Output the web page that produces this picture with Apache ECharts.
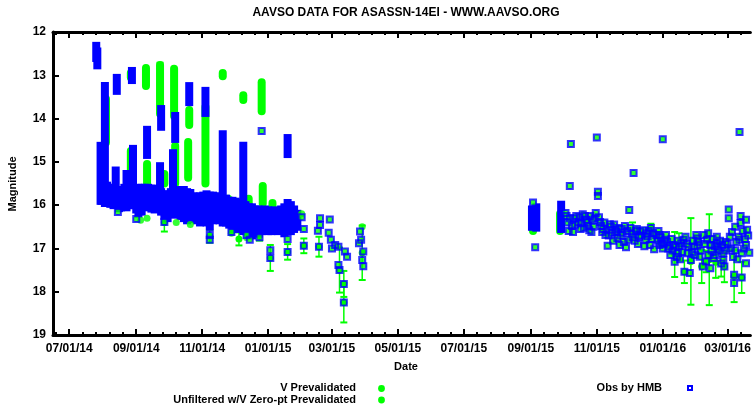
<!DOCTYPE html>
<html>
<head>
<meta charset="utf-8">
<script src="https://cdn.jsdelivr.net/npm/echarts@6/dist/echarts.min.js"></script>
<style>
html, body { margin: 0; padding: 0; background: #ffffff; }
#chart { width: 754px; height: 408px; }
</style>
</head>
<body>
<div id="chart"></div>
<script>
// ---- Light curve of ASASSN-14ei (AAVSO) ----
const chartTitle = 'AAVSO DATA FOR ASASSN-14EI - WWW.AAVSO.ORG';

// Date axis: major ticks every two months, shown range
const tickDates = ['2014-07-01', '2014-09-01', '2014-11-01', '2015-01-01', '2015-03-01', '2015-05-01',
                   '2015-07-01', '2015-09-01', '2015-11-01', '2016-01-01', '2016-03-01'];
const tickLabels = ['07/01/14', '09/01/14', '11/01/14', '01/01/15', '03/01/15', '05/01/15',
                    '07/01/15', '09/01/15', '11/01/15', '01/01/16', '03/01/16'];
const dateRange = ['2014-06-16', '2016-03-22'];
const magRange = [12, 19];

// HMB nightly time series: [date, brightest mag, faintest mag]
const hmbRuns = [
  ['2014-07-26', 12.32, 12.60], ['2014-07-27', 12.45, 12.77], ['2014-07-30', 14.63, 15.90],
  ['2014-07-31', 15.56, 15.90], ['2014-08-03', 13.25, 15.95], ['2014-08-05', 15.55, 15.95],
  ['2014-08-08', 15.60, 15.97], ['2014-08-11', 15.60, 16.00], ['2014-08-13', 15.20, 15.95],
  ['2014-08-14', 13.06, 13.36], ['2014-08-16', 15.65, 16.07], ['2014-08-18', 15.65, 16.05],
  ['2014-08-21', 15.60, 16.00], ['2014-08-23', 15.28, 16.05], ['2014-08-25', 15.65, 16.00],
  ['2014-08-28', 12.90, 13.11], ['2014-08-29', 14.70, 16.00], ['2014-09-01', 15.62, 16.10],
  ['2014-09-03', 15.60, 16.20], ['2014-09-06', 15.60, 16.15], ['2014-09-09', 15.60, 16.05],
  ['2014-09-11', 14.26, 14.84], ['2014-09-12', 15.60, 16.00], ['2014-09-15', 15.62, 16.08],
  ['2014-09-18', 15.62, 16.10], ['2014-09-21', 15.65, 16.05], ['2014-09-23', 15.10, 16.00],
  ['2014-09-24', 13.78, 14.19], ['2014-09-24', 15.70, 16.15], ['2014-09-27', 15.75, 16.25],
  ['2014-09-30', 15.75, 16.30], ['2014-10-03', 15.70, 16.20], ['2014-10-05', 14.80, 15.95],
  ['2014-10-06', 15.70, 16.22], ['2014-10-07', 13.94, 14.47], ['2014-10-09', 15.68, 16.20],
  ['2014-10-12', 15.65, 16.25], ['2014-10-15', 15.65, 16.30], ['2014-10-18', 15.70, 16.35],
  ['2014-10-20', 13.25, 13.62], ['2014-10-21', 15.72, 16.32], ['2014-10-24', 15.80, 16.25],
  ['2014-10-27', 15.80, 16.35], ['2014-10-30', 15.80, 16.40], ['2014-11-02', 15.78, 16.35],
  ['2014-11-04', 13.36, 13.87], ['2014-11-05', 15.75, 16.40], ['2014-11-08', 15.78, 16.50],
  ['2014-11-11', 15.78, 16.35], ['2014-11-14', 15.80, 16.30], ['2014-11-17', 15.80, 16.35],
  ['2014-11-20', 14.36, 16.40], ['2014-11-23', 15.85, 16.40], ['2014-11-26', 15.90, 16.45],
  ['2014-11-29', 15.90, 16.55], ['2014-12-02', 15.92, 16.50], ['2014-12-05', 15.95, 16.55],
  ['2014-12-09', 14.63, 16.60], ['2014-12-11', 16.00, 16.60], ['2014-12-14', 16.05, 16.65],
  ['2014-12-17', 16.05, 16.70], ['2014-12-20', 16.10, 16.60], ['2014-12-23', 16.10, 16.65],
  ['2014-12-26', 16.12, 16.60], ['2014-12-29', 16.10, 16.55], ['2015-01-01', 16.12, 16.60],
  ['2015-01-04', 16.15, 16.60], ['2015-01-07', 16.12, 16.55], ['2015-01-10', 16.15, 16.60],
  ['2015-01-13', 16.10, 16.55], ['2015-01-16', 16.05, 16.65], ['2015-01-19', 14.45, 14.82],
  ['2015-01-19', 15.95, 16.60], ['2015-01-22', 16.00, 16.60], ['2015-01-25', 16.10, 16.55],
  ['2015-01-28', 16.20, 16.50],
  ['2015-09-02', 16.10, 16.50], ['2015-09-06', 16.05, 16.52], ['2015-09-29', 15.99, 16.55]
];

// Other unfiltered (V zero-point) nightly series: [date, brightest mag, faintest mag]
const unfRuns = [
  ['2014-08-04', 13.55, 14.55], ['2014-08-27', 12.95, 13.05], ['2014-08-27', 14.75, 15.20],
  ['2014-09-10', 12.83, 13.25], ['2014-09-11', 15.05, 15.50], ['2014-09-23', 12.76, 13.89],
  ['2014-09-27', 15.28, 15.50], ['2014-10-06', 12.85, 13.94], ['2014-10-07', 14.63, 15.50],
  ['2014-10-19', 14.54, 15.37], ['2014-10-20', 13.80, 14.15], ['2014-11-04', 13.73, 15.50],
  ['2014-11-20', 12.95, 13.02], ['2014-11-25', 15.85, 15.95], ['2014-12-09', 13.46, 13.57],
  ['2014-12-14', 15.85, 16.00], ['2014-12-26', 13.16, 13.83], ['2014-12-27', 15.56, 15.97],
  ['2015-01-05', 15.95, 16.05], ['2015-09-03', 16.20, 16.60], ['2015-09-28', 16.20, 16.60]
];

// Single unfiltered observations: [date, mag]
const unfObs = [
  ['2014-09-05', 16.35], ['2014-09-11', 16.30], ['2014-10-08', 16.40], ['2014-10-21', 16.45],
  ['2014-11-28', 16.65], ['2014-12-12', 16.75], ['2015-02-01', 16.20], ['2015-03-29', 16.50]
];

// V observations with uncertainty: [date, mag, error]
const vObs = [
  ['2014-09-23', 12.78, 0.07], ['2014-09-27', 16.40, 0.21], ['2014-11-08', 16.72, 0.15],
  ['2014-12-05', 16.78, 0.15], ['2014-12-24', 16.70, 0.12], ['2015-01-03', 17.22, 0.30],
  ['2015-01-19', 17.08, 0.18], ['2015-02-03', 16.94, 0.17], ['2015-02-17', 16.96, 0.23],
  ['2015-03-08', 17.50, 0.52], ['2015-03-12', 17.82, 0.30], ['2015-03-12', 18.25, 0.46],
  ['2015-03-29', 17.10, 0.63], ['2015-12-04', 16.60, 0.20], ['2015-12-21', 16.53, 0.10],
  ['2016-01-12', 17.14, 0.52], ['2016-01-16', 16.95, 0.30], ['2016-01-21', 17.54, 0.26],
  ['2016-01-27', 17.30, 1.00], ['2016-02-06', 17.42, 0.38], ['2016-02-10', 17.30, 0.25],
  ['2016-02-13', 17.26, 1.05], ['2016-02-19', 17.32, 0.36], ['2016-02-24', 17.35, 0.30],
  ['2016-02-27', 17.42, 0.36], ['2016-03-07', 17.64, 0.60], ['2016-03-14', 17.67, 0.36]
];

// Single HMB observations: [date, mag]
const hmbObs = [
  ['2014-08-15', 16.16], ['2014-09-01', 16.32], ['2014-09-27', 16.39], ['2014-11-08', 16.69],
  ['2014-11-08', 16.80], ['2014-11-28', 16.62], ['2014-12-12', 16.69], ['2014-12-15', 16.80],
  ['2014-12-24', 16.74], ['2014-12-26', 14.29], ['2015-01-03', 17.04], ['2015-01-03', 17.22],
  ['2015-01-19', 16.78], ['2015-01-19', 17.08],
  ['2015-02-01', 16.28], ['2015-02-03', 16.55], ['2015-02-03', 16.94], ['2015-02-16', 16.59],
  ['2015-02-18', 16.30], ['2015-02-18', 16.46], ['2015-02-17', 16.96], ['2015-02-27', 16.33],
  ['2015-02-26', 16.64], ['2015-02-28', 16.80], ['2015-03-01', 17.00], ['2015-03-04', 16.92],
  ['2015-03-07', 16.96], ['2015-03-07', 17.38], ['2015-03-08', 17.50], ['2015-03-12', 17.82],
  ['2015-03-12', 18.25], ['2015-03-13', 17.07], ['2015-03-15', 17.19], ['2015-03-26', 16.88],
  ['2015-03-27', 16.61], ['2015-03-28', 16.80], ['2015-03-29', 17.27], ['2015-03-30', 17.07],
  ['2015-03-30', 17.41],
  ['2015-09-03', 15.94], ['2015-09-05', 16.97],
  ['2015-10-07', 15.56], ['2015-10-08', 14.59], ['2015-11-01', 14.44], ['2015-11-02', 15.69],
  ['2015-11-02', 15.79], ['2015-12-01', 16.11], ['2015-12-05', 15.26], ['2016-01-01', 14.48],
  ['2016-03-12', 14.31],
  ['2015-10-03', 16.18], ['2015-10-04', 16.25], ['2015-10-05', 16.40], ['2015-10-06', 16.60],
  ['2015-10-07', 16.30], ['2015-10-09', 16.48], ['2015-10-10', 16.62], ['2015-10-11', 16.30],
  ['2015-10-12', 16.45], ['2015-10-13', 16.25], ['2015-10-15', 16.39], ['2015-10-16', 16.28],
  ['2015-10-17', 16.55], ['2015-10-18', 16.42], ['2015-10-19', 16.21], ['2015-10-20', 16.52],
  ['2015-10-21', 16.25], ['2015-10-22', 16.34], ['2015-10-23', 16.40], ['2015-10-24', 16.48],
  ['2015-10-25', 16.58], ['2015-10-26', 16.25], ['2015-10-27', 16.62], ['2015-10-28', 16.35],
  ['2015-10-29', 16.50], ['2015-10-30', 16.30], ['2015-10-31', 16.18], ['2015-11-03', 16.28],
  ['2015-11-04', 16.39], ['2015-11-05', 16.48], ['2015-11-06', 16.62], ['2015-11-07', 16.55],
  ['2015-11-08', 16.40], ['2015-11-09', 16.69], ['2015-11-10', 16.58], ['2015-11-11', 16.94],
  ['2015-11-12', 16.70], ['2015-11-13', 16.44], ['2015-11-14', 16.50], ['2015-11-15', 16.64],
  ['2015-11-16', 16.82], ['2015-11-17', 16.45], ['2015-11-18', 16.57], ['2015-11-19', 16.62],
  ['2015-11-20', 16.76], ['2015-11-21', 16.53], ['2015-11-22', 16.92], ['2015-11-23', 16.70],
  ['2015-11-24', 16.55], ['2015-11-25', 16.64], ['2015-11-26', 16.85], ['2015-11-27', 16.48],
  ['2015-11-28', 16.97], ['2015-11-29', 16.60], ['2015-11-30', 16.80], ['2015-12-02', 16.53],
  ['2015-12-03', 16.65], ['2015-12-04', 16.74], ['2015-12-06', 16.82], ['2015-12-07', 16.60],
  ['2015-12-08', 16.55], ['2015-12-09', 16.90], ['2015-12-10', 16.73], ['2015-12-11', 16.61],
  ['2015-12-12', 16.70], ['2015-12-14', 16.58], ['2015-12-15', 16.95], ['2015-12-16', 16.80],
  ['2015-12-17', 16.65], ['2015-12-18', 16.72], ['2015-12-19', 16.60], ['2015-12-20', 16.92],
  ['2015-12-21', 16.53], ['2015-12-22', 16.78], ['2015-12-23', 16.65], ['2015-12-24', 17.02],
  ['2015-12-26', 16.69], ['2015-12-27', 16.82], ['2015-12-28', 16.60], ['2015-12-29', 16.92],
  ['2015-12-29', 16.69], ['2015-12-30', 16.75], ['2015-12-31', 16.88], ['2016-01-01', 17.00],
  ['2016-01-02', 16.90], ['2016-01-03', 16.80], ['2016-01-04', 16.69], ['2016-01-05', 16.85],
  ['2016-01-06', 17.00], ['2016-01-07', 16.95], ['2016-01-08', 17.15], ['2016-01-09', 16.78],
  ['2016-01-10', 17.05], ['2016-01-11', 16.92], ['2016-01-12', 17.31], ['2016-01-13', 16.96],
  ['2016-01-14', 17.20], ['2016-01-15', 16.82], ['2016-01-15', 17.11], ['2016-01-16', 16.95],
  ['2016-01-17', 17.25], ['2016-01-18', 16.88], ['2016-01-19', 17.08], ['2016-01-20', 16.80],
  ['2016-01-21', 17.54], ['2016-01-22', 16.73], ['2016-01-23', 16.90], ['2016-01-24', 17.11],
  ['2016-01-25', 16.96], ['2016-01-26', 17.57], ['2016-01-27', 17.27], ['2016-01-28', 17.08],
  ['2016-01-29', 16.82], ['2016-01-30', 16.96], ['2016-01-31', 17.15], ['2016-02-01', 16.69],
  ['2016-02-02', 16.77], ['2016-02-02', 16.94], ['2016-02-03', 16.85], ['2016-02-04', 17.19],
  ['2016-02-05', 17.05], ['2016-02-07', 17.42], ['2016-02-08', 16.69], ['2016-02-09', 16.90],
  ['2016-02-10', 17.30], ['2016-02-11', 16.80], ['2016-02-12', 16.65], ['2016-02-12', 17.15],
  ['2016-02-14', 16.92], ['2016-02-14', 17.46], ['2016-02-15', 17.05], ['2016-02-16', 16.78],
  ['2016-02-17', 17.22], ['2016-02-18', 16.95], ['2016-02-19', 17.15], ['2016-02-20', 16.73],
  ['2016-02-20', 16.88], ['2016-02-21', 16.96], ['2016-02-22', 17.05], ['2016-02-23', 16.82],
  ['2016-02-24', 17.35], ['2016-02-25', 16.92], ['2016-02-26', 17.11], ['2016-02-26', 17.27],
  ['2016-02-27', 17.42], ['2016-02-28', 16.85], ['2016-02-29', 17.05], ['2016-03-01', 16.90],
  ['2016-03-02', 16.10], ['2016-03-02', 16.30], ['2016-03-03', 16.73], ['2016-03-04', 17.00],
  ['2016-03-05', 16.62], ['2016-03-06', 17.20], ['2016-03-07', 17.61], ['2016-03-07', 17.80],
  ['2016-03-08', 16.50], ['2016-03-08', 17.04], ['2016-03-09', 16.85], ['2016-03-10', 17.25],
  ['2016-03-11', 16.73], ['2016-03-12', 16.80], ['2016-03-13', 16.25], ['2016-03-13', 16.41],
  ['2016-03-14', 17.11], ['2016-03-14', 17.67], ['2016-03-15', 16.60], ['2016-03-16', 17.00],
  ['2016-03-17', 16.78], ['2016-03-18', 16.34], ['2016-03-18', 16.92], ['2016-03-18', 17.34],
  ['2016-03-19', 16.57], ['2016-03-20', 16.70], ['2016-03-21', 17.10]
];

// Legend entries
const legendLeft = ['V Prevalidated', 'Unfiltered w/V Zero-pt Prevalidated'];
const legendRight = ['Obs by HMB'];

// ---- helpers ----
const GREEN = '#00ff00';
const BLUE = '#0000ff';
const FONT = '"Liberation Sans", Arial, Helvetica, sans-serif';
const T0 = Date.UTC(2014, 6, 1);
function day(s) {
  const p = s.split('-').map(Number);
  return (Date.UTC(p[0], p[1] - 1, p[2]) - T0) / 86400000;
}
const xMin = day(dateRange[0]);
const xMax = day(dateRange[1]);
const majorTicks = tickDates.map(day);
const minorTicks = [];
for (let i = 0; i < majorTicks.length; i++) {
  const a = majorTicks[i];
  const b = i < majorTicks.length - 1 ? majorTicks[i + 1] : a + (a - majorTicks[i - 1]);
  const step = (b - a) / 5;
  if (i === 0) {
    for (let k = 1; k <= 4; k++) { const v = a - k * step; if (v > xMin) minorTicks.push(v); }
  }
  for (let k = 1; k <= 4; k++) { const v = a + k * step; if (v < xMax) minorTicks.push(v); }
}
function labelFor(v) {
  let best = 0;
  majorTicks.forEach((t, i) => { if (Math.abs(t - v) < Math.abs(majorTicks[best] - v)) best = i; });
  return tickLabels[best];
}

function runRenderer(color, rounded) {
  return function (params, api) {
    const a = api.coord([api.value(0), api.value(1)]);
    const b = api.coord([api.value(0), api.value(2)]);
    const h = 4;
    return {
      type: 'rect',
      shape: { x: a[0] - h, y: a[1] - h, width: 2 * h, height: b[1] - a[1] + 2 * h, r: rounded ? h : 0 },
      style: { fill: color }
    };
  };
}

function errRenderer(params, api) {
  const x = api.value(0), m = api.value(1), e = api.value(2);
  const c = api.coord([x, m]);
  const p = api.coord([x, m - e]);
  const q = api.coord([x, m + e]);
  return {
    type: 'group',
    children: [
      { type: 'line', shape: { x1: p[0], y1: p[1], x2: q[0], y2: q[1] }, style: { stroke: GREEN, lineWidth: 1.5 } },
      { type: 'line', shape: { x1: p[0] - 3.5, y1: p[1], x2: p[0] + 3.5, y2: p[1] }, style: { stroke: GREEN, lineWidth: 2 } },
      { type: 'line', shape: { x1: q[0] - 3.5, y1: q[1], x2: q[0] + 3.5, y2: q[1] }, style: { stroke: GREEN, lineWidth: 2 } },
      { type: 'circle', shape: { cx: c[0], cy: c[1], r: 3.5 }, style: { fill: GREEN } }
    ]
  };
}

const baseX = {
  type: 'value', min: xMin, max: xMax,
  splitLine: { show: false },
  axisLabel: { show: false },
  axisLine: { show: false }
};

const chart = echarts.init(document.getElementById('chart'), null, { renderer: 'canvas' });
chart.setOption({
  animation: false,
  backgroundColor: '#ffffff',
  grid: { left: 53, right: 0, top: 32, bottom: 73, containLabel: false },
  xAxis: [
    Object.assign({}, baseX, {
      position: 'bottom',
      axisLine: { show: true, onZero: false, lineStyle: { color: '#000', width: 3 } },
      axisTick: { show: true, inside: true, length: 6, lineStyle: { color: '#000', width: 2 }, customValues: majorTicks },
      axisLabel: {
        show: true, customValues: majorTicks, margin: 8, color: '#000',
        fontFamily: FONT, fontSize: 12, fontWeight: 'bold', formatter: labelFor
      }
    }),
    Object.assign({}, baseX, {
      position: 'bottom',
      axisTick: { show: true, inside: true, length: 3, lineStyle: { color: '#000', width: 2 }, customValues: minorTicks }
    }),
    Object.assign({}, baseX, {
      position: 'top',
      axisLine: { show: true, onZero: false, lineStyle: { color: '#000', width: 3 } },
      axisTick: { show: true, inside: true, length: 6, lineStyle: { color: '#000', width: 2 }, customValues: majorTicks }
    }),
    Object.assign({}, baseX, {
      position: 'top',
      axisTick: { show: true, inside: true, length: 3, lineStyle: { color: '#000', width: 2 }, customValues: minorTicks }
    })
  ],
  yAxis: {
    type: 'value', inverse: true, min: magRange[0], max: magRange[1], interval: 1,
    axisLine: { show: true, onZero: false, lineStyle: { color: '#000', width: 3 } },
    axisTick: { show: true, inside: true, length: 6, lineStyle: { color: '#000', width: 2 } },
    axisLabel: { margin: 7, color: '#000', fontFamily: FONT, fontSize: 12, fontWeight: 'bold' },
    splitLine: { show: false }
  },
  series: [
    {
      name: 'Unfiltered w/V Zero-pt Prevalidated', type: 'custom', xAxisIndex: 0, yAxisIndex: 0,
      renderItem: runRenderer(GREEN, true), encode: { x: 0, y: [1, 2] },
      data: unfRuns.map(r => [day(r[0]), r[1], r[2]])
    },
    {
      name: 'V Prevalidated', type: 'custom', xAxisIndex: 0, yAxisIndex: 0,
      renderItem: errRenderer, encode: { x: 0, y: [1, 2] },
      data: vObs.map(r => [day(r[0]), r[1], r[2]])
    },
    {
      name: 'Unfiltered single', type: 'scatter', symbol: 'circle', symbolSize: 7,
      itemStyle: { color: GREEN },
      data: unfObs.map(r => [day(r[0]), r[1]])
    },
    {
      name: 'HMB as unfiltered', type: 'scatter', symbol: 'circle', symbolSize: 6,
      itemStyle: { color: GREEN },
      data: hmbObs.map(r => [day(r[0]), r[1]])
    },
    {
      name: 'Obs by HMB runs', type: 'custom', xAxisIndex: 0, yAxisIndex: 0,
      renderItem: runRenderer(BLUE, false), encode: { x: 0, y: [1, 2] },
      data: hmbRuns.map(r => [day(r[0]), r[1], r[2]])
    },
    {
      name: 'Obs by HMB', type: 'scatter', symbol: 'rect', symbolSize: 6,
      itemStyle: { color: 'rgba(0,0,0,0)', borderColor: BLUE, borderWidth: 2 },
      data: hmbObs.map(r => [day(r[0]), r[1]])
    }
  ],
  graphic: [
    { type: 'text', x: 406, y: 13, style: { text: chartTitle, fill: '#000', font: 'bold 12px ' + FONT, textAlign: 'center', textVerticalAlign: 'middle' } },
    { type: 'text', x: 406, y: 367, style: { text: 'Date', fill: '#000', font: 'bold 11px ' + FONT, textAlign: 'center', textVerticalAlign: 'middle' } },
    { type: 'text', x: 13, y: 184, rotation: Math.PI / 2, style: { text: 'Magnitude', fill: '#000', font: 'bold 11px ' + FONT, textAlign: 'center', textVerticalAlign: 'middle' } },
    { type: 'text', x: 356, y: 388, style: { text: legendLeft[0], fill: '#000', font: 'bold 11px ' + FONT, textAlign: 'right', textVerticalAlign: 'middle' } },
    { type: 'text', x: 356, y: 400, style: { text: legendLeft[1], fill: '#000', font: 'bold 11px ' + FONT, textAlign: 'right', textVerticalAlign: 'middle' } },
    { type: 'circle', shape: { cx: 381.5, cy: 388.5, r: 3.4 }, style: { fill: GREEN } },
    { type: 'circle', shape: { cx: 381.5, cy: 400, r: 3.4 }, style: { fill: GREEN } },
    { type: 'text', x: 662, y: 388, style: { text: legendRight[0], fill: '#000', font: 'bold 11px ' + FONT, textAlign: 'right', textVerticalAlign: 'middle' } },
    { type: 'rect', shape: { x: 688, y: 386, width: 4, height: 4 }, style: { fill: '#fff', stroke: BLUE, lineWidth: 2 } }
  ]
});
</script>
</body>
</html>
